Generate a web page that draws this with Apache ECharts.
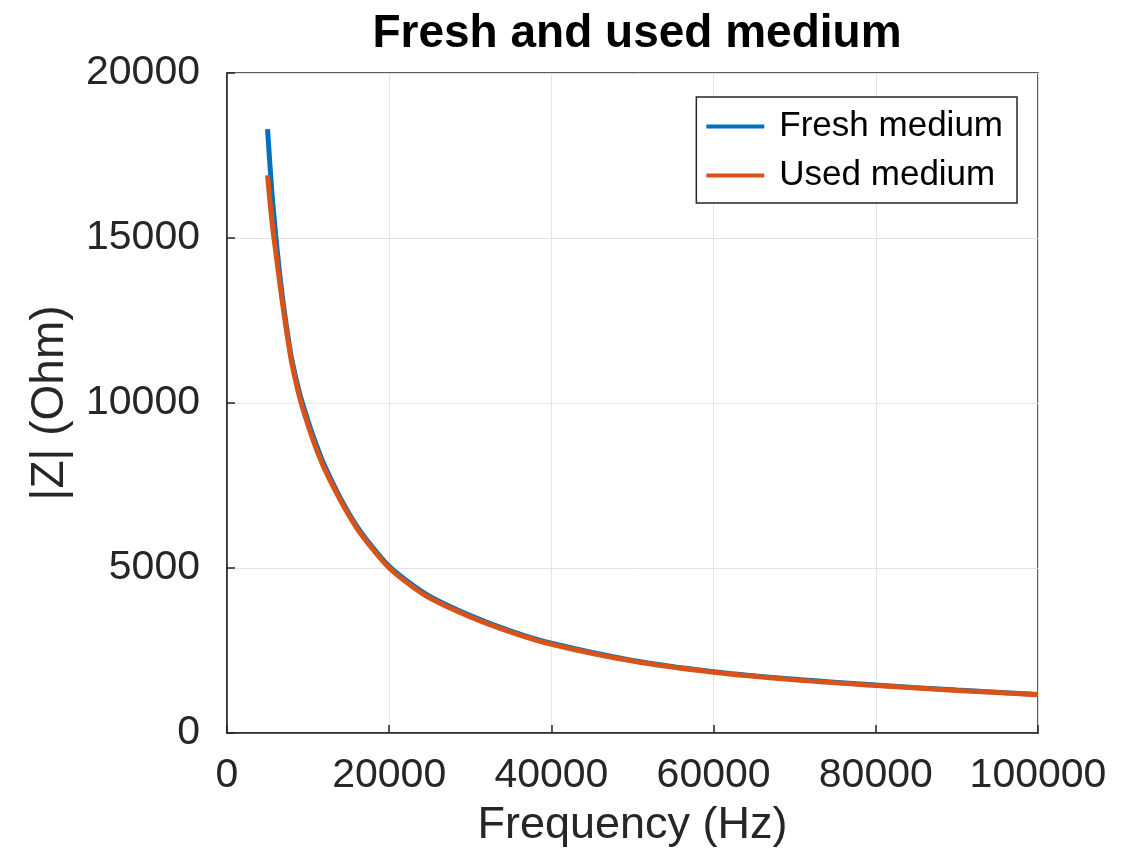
<!DOCTYPE html>
<html>
<head>
<meta charset="utf-8">
<script src="https://cdn.jsdelivr.net/npm/echarts@6/dist/echarts.min.js"></script>
<style>
html,body{margin:0;padding:0;background:#fff;}
#chart{width:1142px;height:855px;}
</style>
</head>
<body>
<div id="chart"></div>
<script>
var titleText = 'Fresh and used medium';
var xName = 'Frequency (Hz)';
var yName = '|Z| (Ohm)';
var seriesNames = ['Fresh medium', 'Used medium'];

var freqFresh = [5000, 5500, 6000, 6500, 7000, 7500, 8000, 9000, 10000, 11000, 12000, 14000, 16000, 18000, 20000, 22500, 25000, 30000, 35000, 40000, 50000, 60000, 70000, 80000, 90000, 100000];
var zFresh    = [18300, 16500, 15100, 13900, 12900, 12050, 11300, 10250, 9450, 8740, 8120, 7110, 6270, 5610, 5050, 4550, 4140, 3560, 3090, 2720, 2200, 1860, 1630, 1455, 1300, 1170];

var freqUsed = [5000, 5500, 6000, 6500, 7000, 7500, 8000, 9000, 10000, 11000, 12000, 14000, 16000, 18000, 20000, 22500, 25000, 30000, 35000, 40000, 50000, 60000, 70000, 80000, 90000, 100000];
var zUsed    = [16900, 15600, 14600, 13650, 12750, 11930, 11200, 10130, 9320, 8620, 8020, 7040, 6210, 5560, 5000, 4500, 4090, 3520, 3060, 2690, 2180, 1840, 1610, 1440, 1290, 1160];

var xTicks = {min: 0, max: 100000, interval: 20000};
var yTicks = {min: 0, max: 20000, interval: 5000};

function pairs(xs, ys){ return xs.map(function(x,i){ return [x, ys[i]]; }); }
function plain(v){ return String(v); }

var axisColor = '#262626';
var fontFam = '"Liberation Sans", Arial, Helvetica, sans-serif';

var chart = echarts.init(document.getElementById('chart'));
chart.setOption({
  animation: false,
  backgroundColor: '#ffffff',
  title: {
    text: titleText,
    left: 632, top: 6, textAlign: 'center',
    textStyle: {fontFamily: fontFam, fontSize: 46, fontWeight: 'bold', color: '#000'}
  },
  grid: {left: 227, right: 104, top: 73, bottom: 122, show: true, borderColor: axisColor, borderWidth: 1.5, backgroundColor: 'transparent'},
  legend: {
    right: 125, top: 97,
    orient: 'vertical',
    itemWidth: 58, itemHeight: 4, itemGap: 14,
    padding: [12, 14, 10, 10],
    borderColor: axisColor, borderWidth: 1.5, borderRadius: 0,
    backgroundColor: '#fff',
    textStyle: {fontFamily: fontFam, fontSize: 35, color: '#000', padding: [0,0,0,10]},
    data: [{name: seriesNames[0], icon: 'rect'}, {name: seriesNames[1], icon: 'rect'}]
  },
  xAxis: {
    type: 'value', min: xTicks.min, max: xTicks.max, interval: xTicks.interval,
    name: xName, nameLocation: 'middle', nameGap: 70,
    nameTextStyle: {fontFamily: fontFam, fontSize: 45, color: axisColor},
    axisLine: {show: true, onZero: false, lineStyle: {color: axisColor, width: 1.5}},
    axisTick: {show: true, inside: true, length: 8, lineStyle: {color: axisColor, width: 1.5}},
    axisLabel: {fontFamily: fontFam, fontSize: 41, color: axisColor, margin: 22, formatter: plain},
    splitLine: {show: true, lineStyle: {color: '#e3e3e3', width: 1}}
  },
  yAxis: {
    type: 'value', min: yTicks.min, max: yTicks.max, interval: yTicks.interval,
    name: yName, nameLocation: 'middle', nameGap: 154, nameRotate: 90,
    nameTextStyle: {fontFamily: fontFam, fontSize: 46, color: axisColor},
    axisLine: {show: true, onZero: false, lineStyle: {color: axisColor, width: 1.5}},
    axisTick: {show: true, inside: true, length: 8, lineStyle: {color: axisColor, width: 1.5}},
    axisLabel: {fontFamily: fontFam, fontSize: 41, color: axisColor, margin: 27, formatter: plain},
    splitLine: {show: true, lineStyle: {color: '#e3e3e3', width: 1}}
  },
  series: [
    {name: seriesNames[0], type: 'line', data: pairs(freqFresh, zFresh), showSymbol: false, smooth: 0.3,
     lineStyle: {color: '#0072BD', width: 5}, itemStyle: {color: '#0072BD'}, z: 2},
    {name: seriesNames[1], type: 'line', data: pairs(freqUsed, zUsed), showSymbol: false, smooth: 0.3,
     lineStyle: {color: '#D95319', width: 5}, itemStyle: {color: '#D95319'}, z: 3}
  ]
});
</script>
</body>
</html>
